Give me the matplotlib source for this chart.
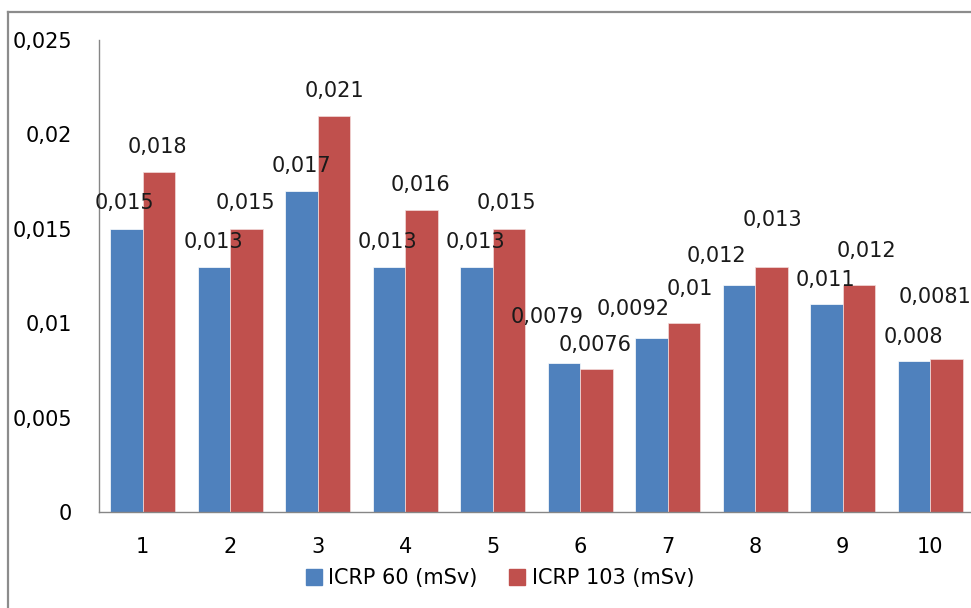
import matplotlib

matplotlib.use("Agg")
import matplotlib.pyplot as plt
import numpy as np
from matplotlib.lines import Line2D

categories = ["1", "2", "3", "4", "5", "6", "7", "8", "9", "10"]
icrp60 = [0.015, 0.013, 0.017, 0.013, 0.013, 0.0079, 0.0092, 0.012, 0.011, 0.008]
icrp103 = [0.018, 0.015, 0.021, 0.016, 0.015, 0.0076, 0.01, 0.013, 0.012, 0.0081]
series_names = ["ICRP 60 (mSv)", "ICRP 103 (mSv)"]
y_ticks = [0, 0.005, 0.01, 0.015, 0.02, 0.025]

# label offsets in pixels (Excel nudged a few labels to avoid overlaps)
offsets60 = [(-2, 26), (-1, 25), (0, 25), (-2, 25), (-1, 25),
             (-17, 46), (-18, 29), (-23, 29), (-1, 24), (-1, 24)]
offsets103 = [(-2, 25), (-1, 26), (0, 25), (-1, 25), (-2, 26),
              (-1, 24), (6, 34), (1, 47), (7, 34), (-11, 62)]

BLUE = "#4F81BD"
RED = "#C0504D"
GREY = "#868686"


def fmt(value: float) -> str:
    text = f"{value:.4f}".rstrip("0").rstrip(".")
    return text.replace(".", ",")


plt.rcParams["font.family"] = ["DejaVu Sans"]
plt.rcParams["font.size"] = 15

fig = plt.figure(figsize=(9.71, 6.08), dpi=100)
ax = fig.add_axes([99 / 971, 96 / 608, 875 / 971, 472 / 608])

x = np.arange(len(categories))
width = 0.37
bars60 = ax.bar(x - width / 2, icrp60, width=width, color=BLUE, edgecolor="white", linewidth=0.5)
bars103 = ax.bar(x + width / 2, icrp103, width=width, color=RED, edgecolor="#F2DCDB", linewidth=0.5)

for bars, values, offsets in [(bars60, icrp60, offsets60), (bars103, icrp103, offsets103)]:
    for bar, value, (dx, dy) in zip(bars, values, offsets):
        ax.annotate(
            fmt(value),
            (bar.get_x() + bar.get_width() / 2, value),
            xytext=(dx, dy),
            textcoords="offset pixels",
            ha="center",
            va="center",
            fontsize=15,
            color="#1a1a1a",
            annotation_clip=False,
        )

ax.set_xlim(-0.5, len(categories) - 0.5)
ax.set_ylim(0, 0.025)
ax.set_xticks(x)
ax.set_xticklabels(categories)
ax.set_yticks(y_ticks)
ax.set_yticklabels([fmt(t) for t in y_ticks])
ax.tick_params(axis="y", length=0, pad=19.5)
ax.tick_params(axis="x", length=0, pad=18)
for side in ["top", "right"]:
    ax.spines[side].set_visible(False)
for side in ["left", "bottom"]:
    ax.spines[side].set_color(GREY)
    ax.spines[side].set_linewidth(1)

handles = [
    Line2D([], [], marker="s", linestyle="none", markersize=11.5, color=BLUE),
    Line2D([], [], marker="s", linestyle="none", markersize=11.5, color=RED),
]
fig.legend(
    handles,
    series_names,
    loc="center",
    bbox_to_anchor=(500 / 971, 1 - 578 / 608),
    ncol=2,
    frameon=False,
    fontsize=15,
    handlelength=0.8,
    handletextpad=0.3,
    columnspacing=1.5,
)

# chart area border (cropped on right and bottom)
fig.add_artist(Line2D([8 / 971, 8 / 971], [0, 1 - 12 / 608], transform=fig.transFigure,
                      color="#8c8c8c", linewidth=1.6))
fig.add_artist(Line2D([8 / 971, 1], [1 - 12 / 608, 1 - 12 / 608], transform=fig.transFigure,
                      color="#8c8c8c", linewidth=1.6))

fig.savefig("out.png", dpi=100)
